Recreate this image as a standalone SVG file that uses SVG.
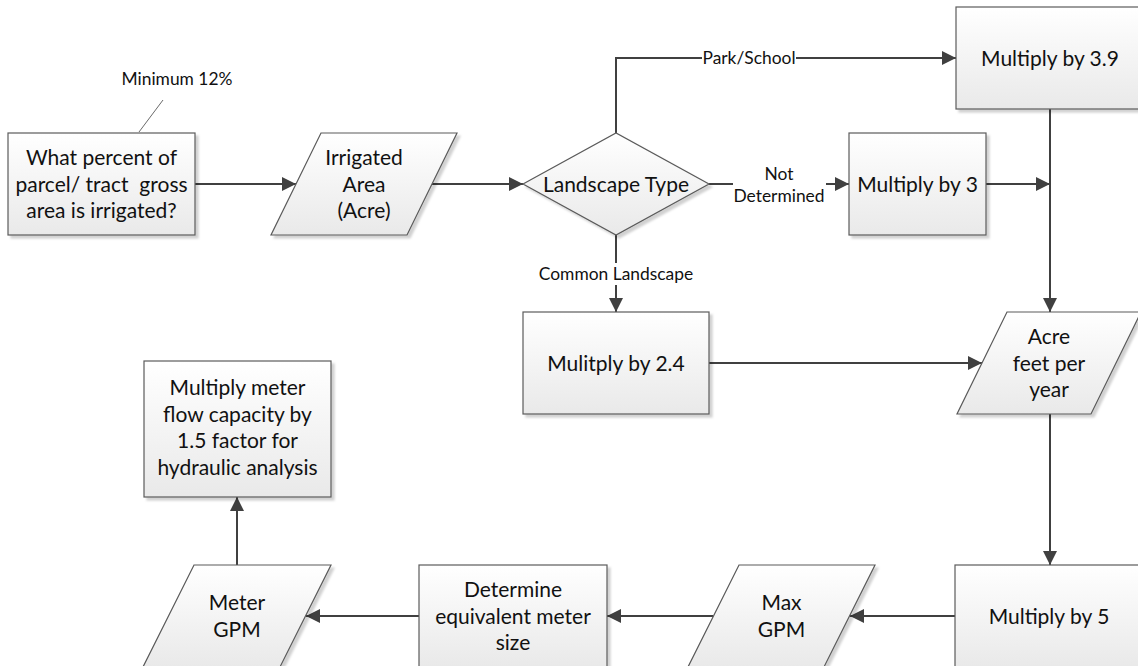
<svg xmlns="http://www.w3.org/2000/svg" width="1138" height="666" viewBox="0 0 1138 666">
<style>
.n{fill:url(#g);stroke:#5a5a5a;stroke-width:1.2;filter:url(#sh)}
.t{font-family:Lato,"Open Sans","Liberation Sans",sans-serif;font-size:21px;fill:#111;text-anchor:middle}
.l{font-family:Lato,"Open Sans","Liberation Sans",sans-serif;font-size:17.4px;fill:#111;text-anchor:middle}
.c{fill:none;stroke:#404040;stroke-width:2}
.a{marker-end:url(#ah)}
.bg{fill:#fff}
</style>
<defs>
<linearGradient id="g" x1="0" y1="0" x2="0" y2="1">
<stop offset="0" stop-color="#ffffff"/>
<stop offset="1" stop-color="#e9e9e9"/>
</linearGradient>
<filter id="sh" x="-10%" y="-10%" width="130%" height="130%">
<feDropShadow dx="3" dy="3" stdDeviation="1.2" flood-color="#000" flood-opacity="0.18"/>
</filter>
<marker id="ah" markerUnits="userSpaceOnUse" markerWidth="14" markerHeight="14" viewBox="0 0 12 12" refX="12" refY="6" orient="auto">
<path d="M0,0 L12,6 L0,12 Z" fill="#404040"/>
</marker>
</defs>

<g id="connectors">
<line class="c a" x1="195" y1="184" x2="296" y2="184"/>
<line class="c a" x1="432" y1="184" x2="523" y2="184"/>
<polyline class="c a" points="616,133 616,58 956,58"/>
<line class="c a" x1="709" y1="184" x2="849" y2="184"/>
<line class="c a" x1="616" y1="235" x2="616" y2="312"/>
<line class="c a" x1="986" y1="184" x2="1050" y2="184"/>
<line class="c a" x1="1050" y1="109" x2="1050" y2="312"/>
<line class="c a" x1="709" y1="363" x2="982" y2="363"/>
<line class="c a" x1="1050" y1="414" x2="1050" y2="565"/>
<line class="c a" x1="955" y1="616" x2="850" y2="616"/>
<line class="c a" x1="713" y1="616" x2="607" y2="616"/>
<line class="c a" x1="419" y1="616" x2="306" y2="616"/>
<line class="c a" x1="237" y1="565" x2="237" y2="497"/>
<rect class="bg" x="702" y="47" width="94" height="22"/>
<text class="l" x="749" y="64">Park/School</text>
<rect class="bg" x="733" y="160" width="93" height="46"/>
<text class="l" x="779" y="180">Not</text>
<text class="l" x="779" y="202">Determined</text>
<rect class="bg" x="536" y="263" width="160" height="22"/>
<text class="l" x="616" y="280">Common Landscape</text>
</g>

<g id="annotation">
<line x1="139" y1="132" x2="163" y2="100" stroke="#6a6a6a" stroke-width="1"/>
<text class="l" x="177" y="85">Minimum 12%</text>
</g>

<g id="n1">
<rect class="n" x="8" y="133" width="187" height="102"/>
<text class="t" x="101.5" y="165">What percent of</text>
<text class="t" x="101.5" y="191.5" xml:space="preserve">parcel/ tract  gross</text>
<text class="t" x="101.5" y="218">area is irrigated?</text>
</g>

<g id="n2">
<polygon class="n" points="321,133 457,133 407,235 271,235"/>
<text class="t" x="364" y="165">Irrigated</text>
<text class="t" x="364" y="191.5">Area</text>
<text class="t" x="364" y="218">(Acre)</text>
</g>

<g id="n3">
<polygon class="n" points="523,184 616,133 709,184 616,235"/>
<text class="t" x="616" y="191.5">Landscape Type</text>
</g>

<g id="n4">
<rect class="n" x="956" y="7" width="188" height="102"/>
<text class="t" x="1050" y="65.5">Multiply by 3.9</text>
</g>

<g id="n5">
<rect class="n" x="849" y="133" width="137" height="102"/>
<text class="t" x="917.5" y="191.5">Multiply by 3</text>
</g>

<g id="n6">
<rect class="n" x="523" y="312" width="186" height="102"/>
<text class="t" x="616" y="370.5">Mulitply by 2.4</text>
</g>

<g id="n7">
<polygon class="n" points="1007,312 1141,312 1091,414 957,414"/>
<text class="t" x="1049" y="344">Acre</text>
<text class="t" x="1049" y="370.5">feet per</text>
<text class="t" x="1049" y="397">year</text>
</g>

<g id="n8">
<rect class="n" x="955" y="565" width="188" height="102"/>
<text class="t" x="1049" y="623.5">Multiply by 5</text>
</g>

<g id="n9">
<polygon class="n" points="739,565 875,565 824,667 688,667"/>
<text class="t" x="781.5" y="610">Max</text>
<text class="t" x="781.5" y="636.5">GPM</text>
</g>

<g id="n10">
<rect class="n" x="419" y="565" width="188" height="102"/>
<text class="t" x="513" y="597">Determine</text>
<text class="t" x="513" y="623.5">equivalent meter</text>
<text class="t" x="513" y="650">size</text>
</g>

<g id="n11">
<polygon class="n" points="194,565 331,565 280,667 143,667"/>
<text class="t" x="237" y="610">Meter</text>
<text class="t" x="237" y="636.5">GPM</text>
</g>

<g id="n12">
<rect class="n" x="144" y="361" width="187" height="136"/>
<text class="t" x="237.5" y="395">Multiply meter</text>
<text class="t" x="237.5" y="421.5">flow capacity by</text>
<text class="t" x="237.5" y="448">1.5 factor for</text>
<text class="t" x="237.5" y="474.5">hydraulic analysis</text>
</g>
</svg>
